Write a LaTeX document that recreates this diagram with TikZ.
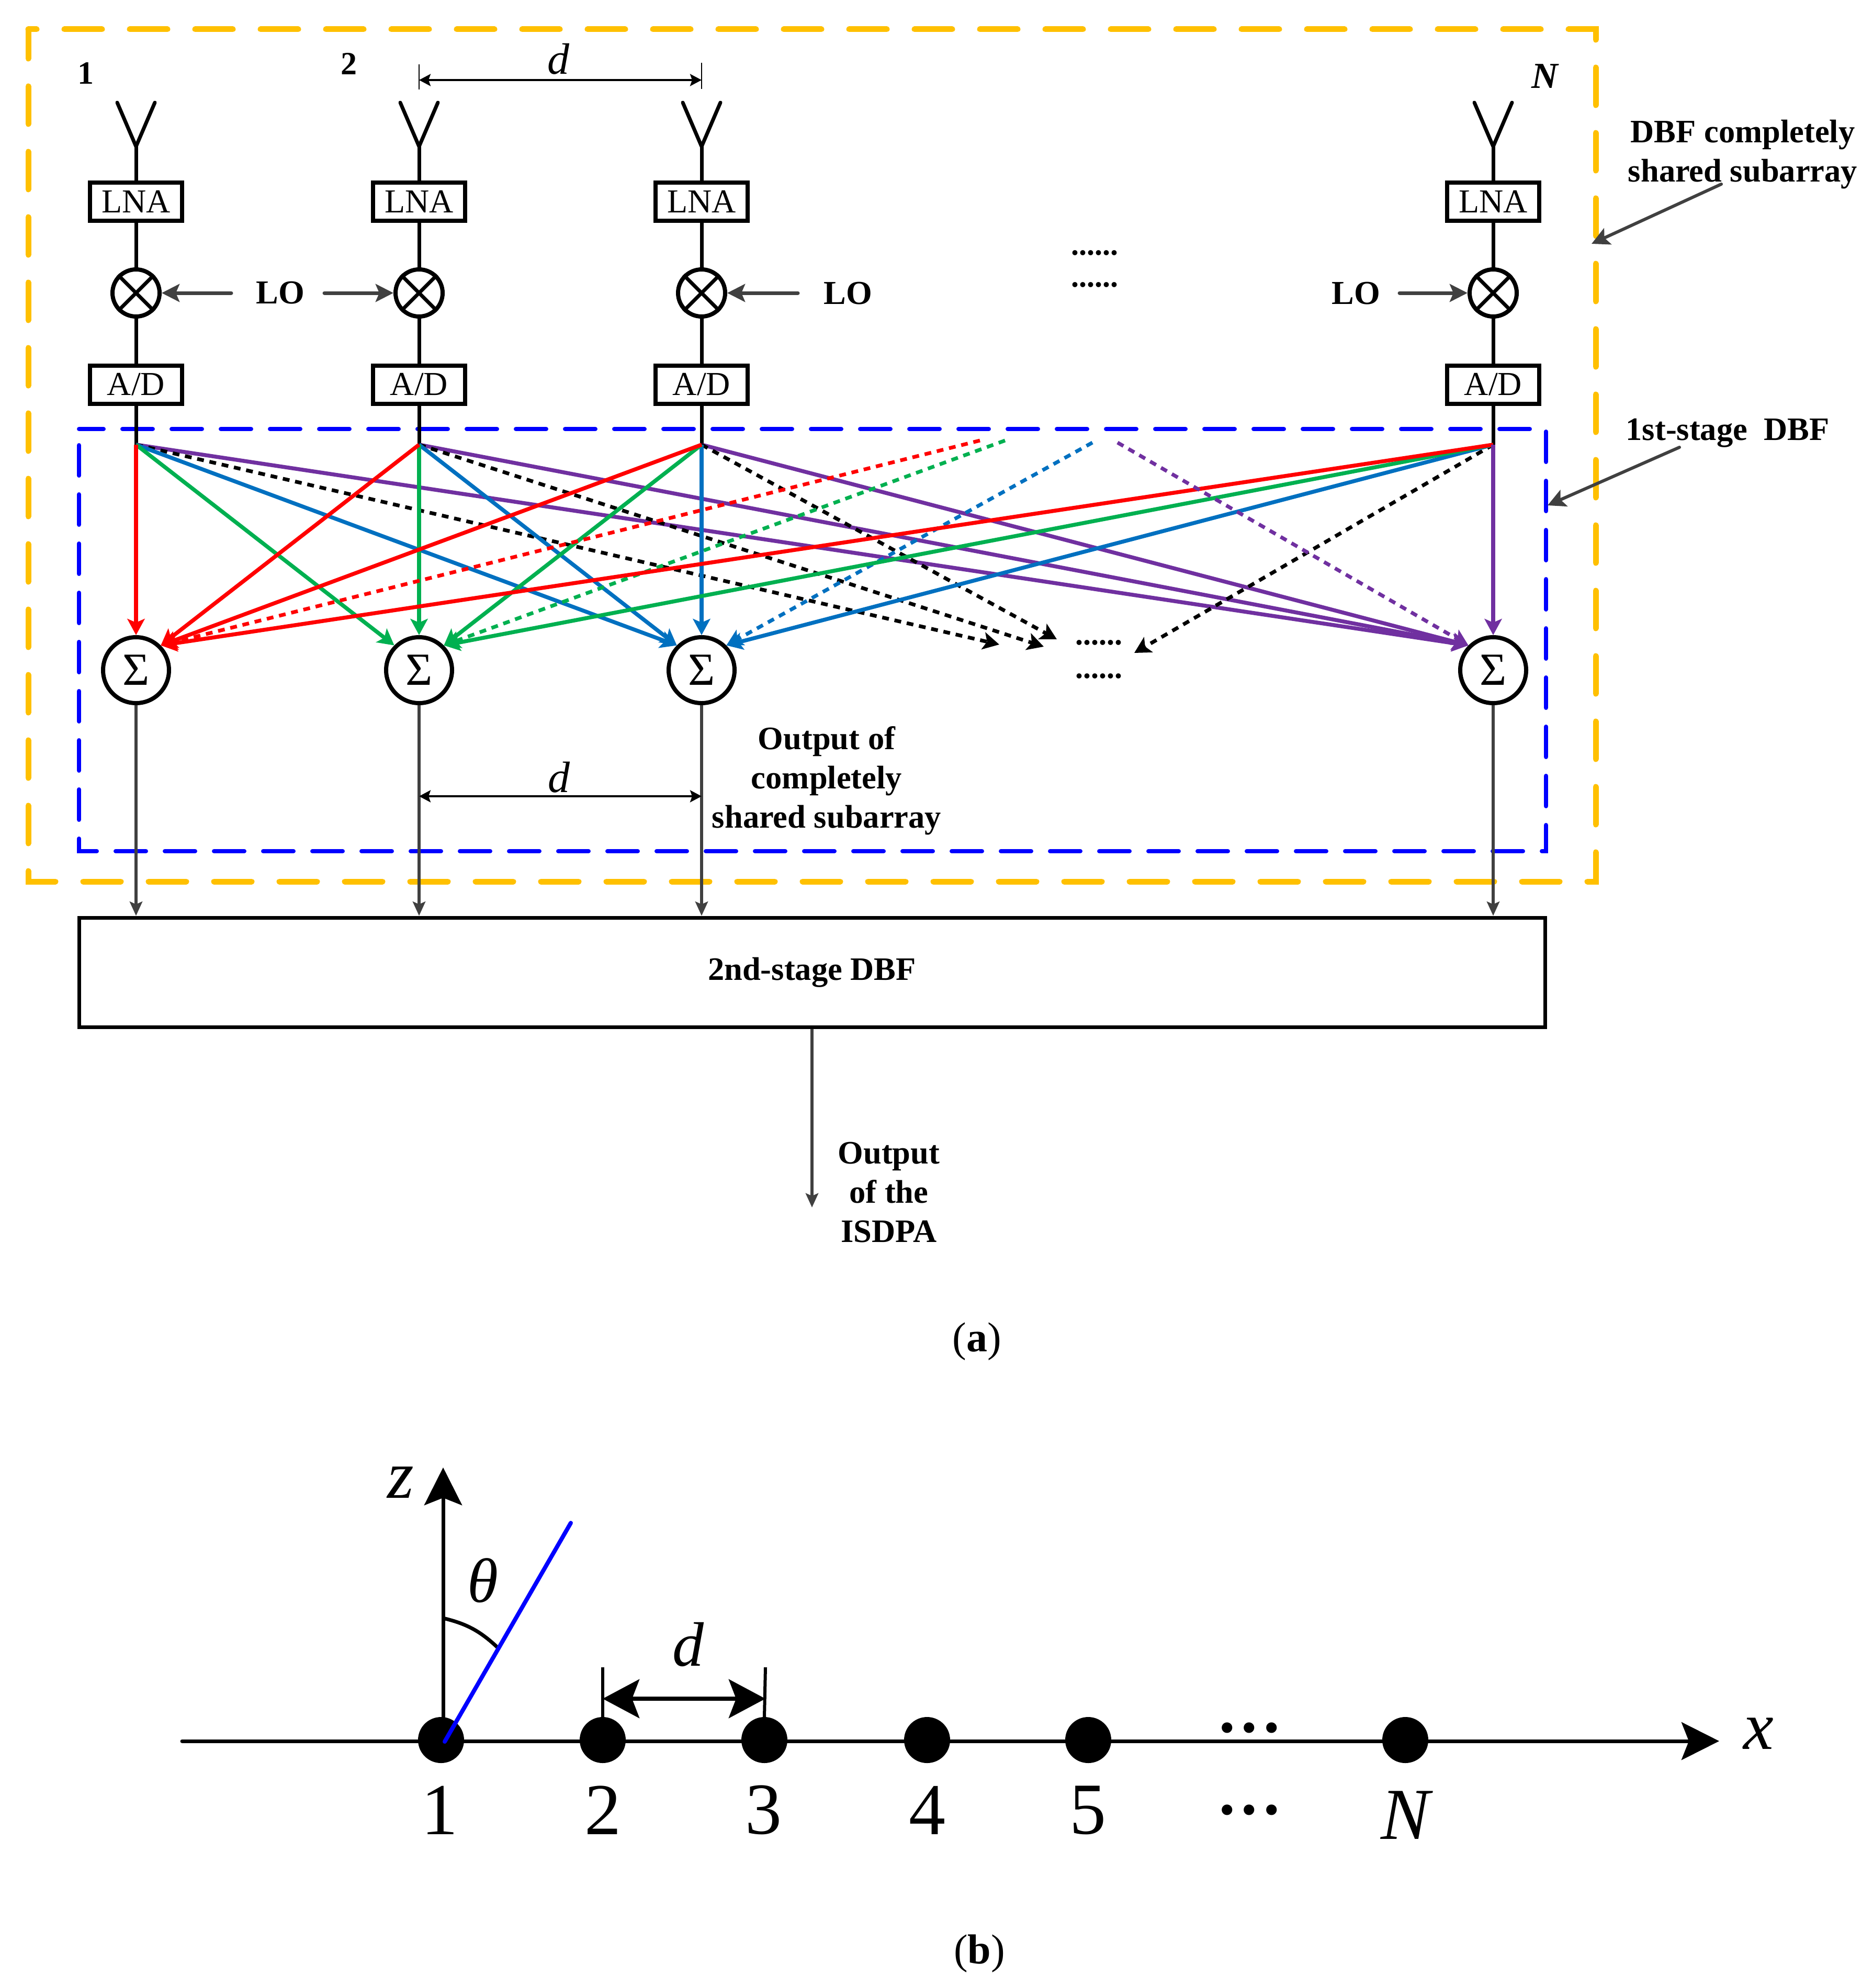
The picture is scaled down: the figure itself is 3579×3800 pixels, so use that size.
\documentclass[tikz,border=0pt]{standalone}
\usepackage{fontspec}
\setmainfont{Liberation Serif}
\usetikzlibrary{arrows.meta}
\definecolor{cgold}{HTML}{FFC000}
\definecolor{cdash}{HTML}{0000FF}
\definecolor{cred}{HTML}{FF0000}
\definecolor{cgreen}{HTML}{00B050}
\definecolor{cblue}{HTML}{0070C0}
\definecolor{cpurple}{HTML}{7030A0}
\definecolor{cgray}{HTML}{404040}
\newcommand{\fsz}[1]{\fontsize{#1pt}{#1pt}\selectfont}
\tikzset{
  x=1pt,y=-1pt,
  txt/.style={inner sep=0pt,outer sep=0pt,align=center},
  lab/.style={txt,font=\fsz{62.5}\bfseries,text depth=0pt},
  labl/.style={txt,font=\fontsize{62.5pt}{75pt}\selectfont\bfseries},
  block/.style={draw,line width=8pt,minimum width=176pt,minimum height=73pt,inner sep=0pt,font=\fsz{64}},
  mixer/.style={draw,circle,line width=8pt,minimum size=90pt,inner sep=0pt},
  summer/.style={draw,circle,line width=8pt,minimum size=126pt,inner sep=0pt,fill=white,font=\fsz{88}},
  wire/.style={line width=7pt},
  tiphead/.style={-{Stealth[length=31pt,width=33pt,inset=7pt]}},
  graytip/.style={color=cgray,line width=7pt,line cap=round,-{Stealth[length=34pt,width=34pt,inset=7pt]}},
  down/.style={color=cgray,line width=6pt,-{Stealth[length=27pt,width=24pt,inset=5pt]}},
  dim/.style={line width=3.5pt,{Stealth[length=22pt,width=23pt,inset=4pt]}-{Stealth[length=22pt,width=23pt,inset=4pt]}},
  feed/.style={line width=7.5pt,tiphead},
  feeddot/.style={line width=7pt,dash pattern=on 13pt off 11pt,tiphead},
  elem/.style={circle,fill=black,minimum size=88pt,inner sep=0pt},
  num/.style={txt,font=\fsz{140}},
  big/.style={-{Stealth[length=72pt,width=72pt,inset=14pt]}},
}
\begin{document}
\begin{tikzpicture}
\useasboundingbox (0,0) rectangle (3579,3800);
% outer dashed frames
\draw[color=cgold,line width=11pt,line cap=round,dash pattern=on 72pt off 53pt,dash phase=56pt]
  (54,56) -- (3050,56) -- (3050,1685) -- (54,1685) -- cycle;
\draw[color=cdash,line width=8pt,line cap=round,dash pattern=on 58pt off 36pt,dash phase=11pt]
  (151,820) -- (2955,820) -- (2955,1627) -- (151,1627) -- cycle;
% columns
\foreach \n/\x in {1/260,2/801,3/1341,4/2854}{
  \node[block] (lna\n) at (\x,385) {LNA};
  \node[block] (ad\n) at (\x,735) {A/D};
  \node[mixer] (mix\n) at (\x,560) {};
  \coordinate (apex\n) at (\x,280);
  \coordinate (antl\n) at (\x-36,196);
  \coordinate (antr\n) at (\x+36,196);
  \coordinate (t\n) at (\x,850);
  \node[summer] (s\n) at (\x,1281) {Σ};
  \draw[wire,line join=round,line cap=round] (antl\n) -- (apex\n) -- (antr\n);
  \draw[wire] (apex\n) -- (lna\n.north);
  \draw[wire] (lna\n.south) -- (mix\n.north);
  \draw[wire] (mix\n.south) -- (ad\n.north);
  \draw[wire] (ad\n.south) -- (t\n);
  \draw[wire] (mix\n.45) -- (mix\n.225);
  \draw[wire] (mix\n.135) -- (mix\n.315);
}
% free ends
\coordinate (rd) at (1873,842);
\coordinate (gd) at (1921,842);
\coordinate (bd) at (2088,846);
\coordinate (pd) at (2136,846);
\coordinate (k1) at (1910,1232);
\coordinate (k2) at (1995,1236);
\coordinate (k3) at (2020,1222);
\coordinate (k4) at (2168,1248);
% feeds
\draw[feed,cpurple] (t1) -- (s4.135);
\draw[feed,cpurple] (t2) -- (s4.135);
\draw[feed,cpurple] (t3) -- (s4.135);
\draw[feeddot,black] (t1) -- (k1);
\draw[feeddot,black] (t2) -- (k2);
\draw[feeddot,black] (t3) -- (k3);
\draw[feeddot,black] (t4) -- (k4);
\draw[feed,cblue] (t1) -- (s3.135);
\draw[feed,cblue] (t2) -- (s3.135);
\draw[feed,cblue] (t3) -- (s3.north);
\draw[feed,cblue] (t4) -- (s3.45);
\draw[feeddot,cblue] (bd) -- (s3.45);
\draw[feed,cgreen] (t1) -- (s2.135);
\draw[feed,cgreen] (t2) -- (s2.north);
\draw[feed,cgreen] (t3) -- (s2.45);
\draw[feed,cgreen] (t4) -- (s2.45);
\draw[feeddot,cgreen] (gd) -- (s2.45);
\draw[feed,cred] (t1) -- (s1.north);
\draw[feed,cred] (t2) -- (s1.45);
\draw[feed,cred] (t3) -- (s1.45);
\draw[feed,cred] (t4) -- (s1.45);
\draw[feeddot,cred] (rd) -- (s1.45);
\draw[feeddot,cpurple] (pd) -- (s4.135);
\draw[feed,cpurple] (t4) -- (s4.north);
% second-stage block
\node[draw,line width=7pt,minimum width=2802pt,minimum height=209pt,inner sep=0pt,font=\fsz{62.5}\bfseries] (box) at (1552,1858.5) {2nd-stage DBF};
\foreach \n in {1,2,3,4}{
  \draw[down] (s\n.south) -- (s\n.south |- box.north);
}
\coordinate (outend) at (1552,2308);
\draw[down] (box.south) -- (outend);
% element labels
\node[txt,font=\fsz{62}\bfseries] (n1) at (164,140) {1};
\node[txt,font=\fsz{62}\bfseries] (n2) at (667,122) {2};
\node[txt,font=\fsz{70}\bfseries\itshape] (nN) at (2953,146) {N};
% top spacing
\coordinate (ua) at (801,153);
\coordinate (ub) at (1341,153);
\coordinate (uat) at (801,123);
\coordinate (uab) at (801,171);
\coordinate (ubt) at (1341,120);
\coordinate (ubb) at (1341,170);
\draw[line width=2.5pt] (uat) -- (uab);
\draw[line width=2.5pt] (ubt) -- (ubb);
\draw[dim] (ua) -- (ub);
\node[txt,font=\fsz{84}\itshape] (dt) at (1067,113) {d};
% LO labels
\node[txt,font=\fsz{64}\bfseries] (lo1) at (536,560) {LO};
\node[txt,font=\fsz{64}\bfseries] (lo2) at (1621,561) {LO};
\node[txt,font=\fsz{64}\bfseries] (lo3) at (2592,561) {LO};
\coordinate (lo1a) at (442,560);
\coordinate (lo1b) at (620,560);
\coordinate (lo2a) at (1525,560);
\coordinate (lo3a) at (2675,560);
\draw[graytip] (lo1a) -- (mix1.east);
\draw[graytip] (lo1b) -- (mix2.west);
\draw[graytip] (lo2a) -- (mix3.east);
\draw[graytip] (lo3a) -- (mix4.west);
% ellipsis
\node[txt,font=\fsz{60}\bfseries] (e1) at (2092,483) {......};
\node[txt,font=\fsz{60}\bfseries] (e2) at (2092,544) {......};
\node[txt,font=\fsz{60}\bfseries] (e3) at (2100,1228) {......};
\node[txt,font=\fsz{60}\bfseries] (e4) at (2100,1292) {......};
% side labels
\node[labl] (sh) at (3331,295) {DBF completely\\shared subarray};
\coordinate (sha) at (3290,352);
\coordinate (shb) at (3042,466);
\draw[graytip,line width=6pt] (sha) -- (shb);
\node[lab] (fs) at (3302,821) {1st-stage\ \ DBF};
\coordinate (fsa) at (3210,855);
\coordinate (fsb) at (2958,966);
\draw[graytip,line width=6pt] (fsa) -- (fsb);
\node[labl] (oc) at (1580,1492) {Output of\\completely\\shared subarray};
\coordinate (lowa) at (801,1522);
\coordinate (lowb) at (1341,1522);
\draw[dim] (lowa) -- (lowb);
\node[txt,font=\fsz{84}\itshape] (dl) at (1068,1486) {d};
\node[labl] (oi) at (1699,2279) {Output\\of the\\ISDPA};
\node[txt,font=\fsz{80}] (ca) at (1867,2564) {(\textbf{a})};
% part b
\coordinate (xs) at (348,3328);
\coordinate (xe) at (3286,3328);
\draw[line width=7pt,line cap=round,big] (xs) -- (xe);
\foreach \n/\x in {1/843,2/1152,3/1461,4/1772,5/2080,6/2686}{
  \node[elem] (e\n b) at (\x,3326) {};
}
\coordinate (zb) at (847,3326);
\coordinate (zt) at (847,2805);
\draw[line width=7pt,big] (zb) -- (zt);
\coordinate (rb) at (850,3329);
\coordinate (rt) at (1091,2911);
\coordinate (aa) at (847,3093);
\coordinate (ab) at (952,3150);
\draw[line width=7pt] (aa) to[bend left=15] (ab);
\draw[color=cdash,line width=8pt,line cap=round] (rb) -- (rt);
\node[txt,font=\fsz{130}\itshape] (zl) at (766,2834) {z};
\node[txt,font=\fsz{120}\itshape] (thl) at (923,3021) {θ};
\node[txt,font=\fsz{120}\itshape] (db) at (1315,3143) {d};
\node[txt,font=\fsz{130}\itshape] (xl) at (3361,3314) {x};
\coordinate (tka) at (1152,3187);
\coordinate (tkb) at (1463,3187);
\draw[line width=6pt] (tka) -- (e2b.north);
\draw[line width=6pt] (tkb) -- (e3b.north);
\coordinate (da) at (1152,3247);
\coordinate (db2) at (1463,3247);
\draw[line width=8pt,{Stealth[length=70pt,width=74pt,inset=14pt]}-{Stealth[length=70pt,width=74pt,inset=14pt]}] (da) -- (db2);
\node[num] (l1) at (840,3460) {1};
\node[num] (l2) at (1152,3460) {2};
\node[num] (l3) at (1459,3460) {3};
\node[num] (l4) at (1772,3460) {4};
\node[num] (l5) at (2079,3460) {5};
\node[num,font=\fsz{140}\itshape] (lN) at (2686,3470) {N};
\node[txt,font=\fsz{170}] (d1b) at (2388,3303) {...};
\node[txt,font=\fsz{170}] (d2b) at (2388,3460) {...};
\node[txt,font=\fsz{80}] (cb) at (1872,3734) {(\textbf{b})};
\end{tikzpicture}
\end{document}
